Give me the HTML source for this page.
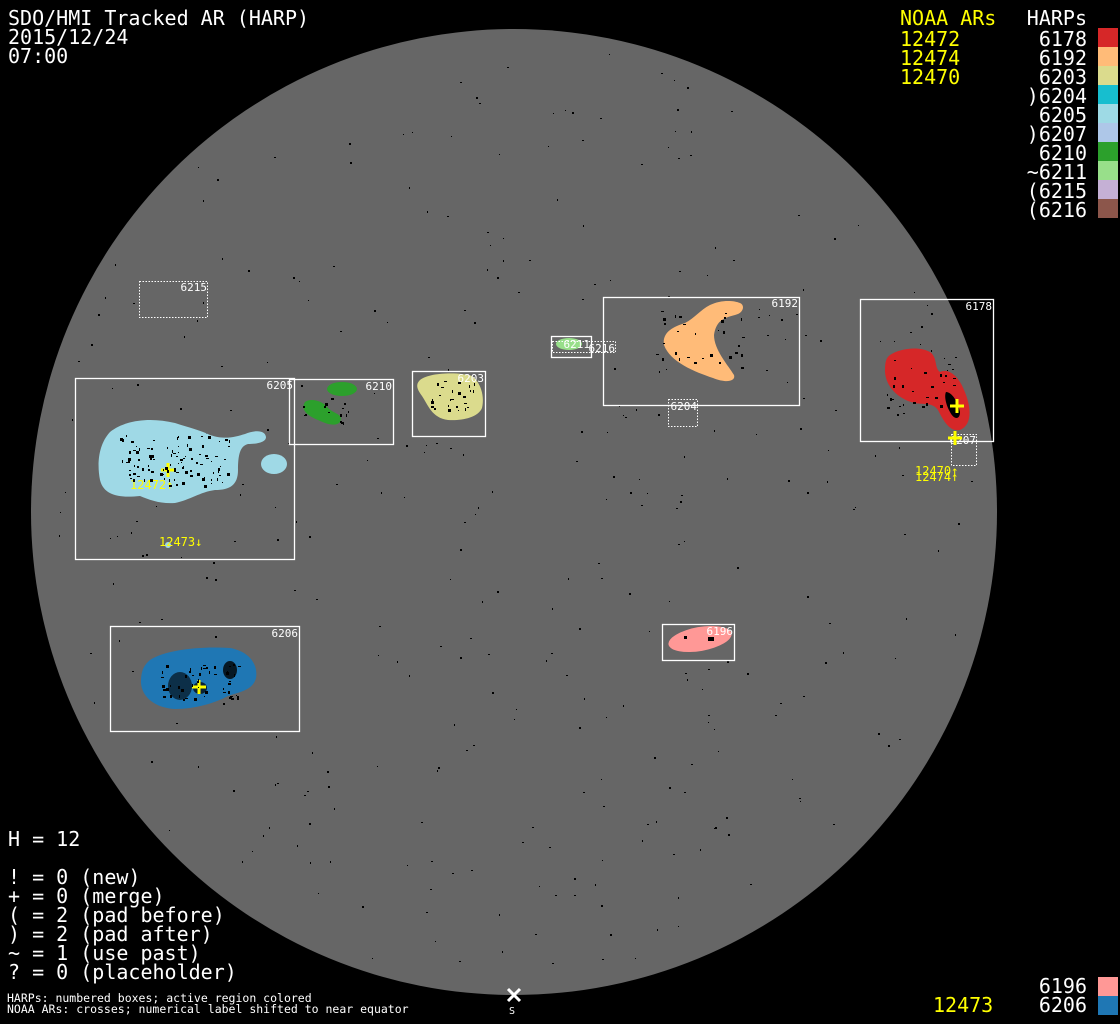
<!DOCTYPE html>
<html><head><meta charset="utf-8"><style>
html,body{margin:0;padding:0;background:#000;width:1120px;height:1024px;overflow:hidden}
svg{display:block}
text{font-family:"DejaVu Sans Mono","Liberation Mono",monospace}
</style></head><body>
<svg id="s" width="1120" height="1024" viewBox="0 0 1120 1024" xmlns="http://www.w3.org/2000/svg">
<rect width="1120" height="1024" fill="#000"/>
<circle cx="514" cy="512" r="483" fill="#666"/>
<g id="dots" fill="#000"></g>

<!-- 6205 cyan -->
<path d="M110,432 C125,420 150,417 175,423 C190,428 200,430 210,435 C225,440 235,437 245,434 C255,430 265,430 266,437 C266,443 255,444 248,444 C240,446 238,455 238,470 C238,485 230,490 215,490 C200,492 190,500 175,503 C160,504 150,500 140,496 C120,498 104,496 100,480 C97,465 98,445 110,432 Z" fill="#9fd9e6"/>
<ellipse cx="274" cy="464" rx="13" ry="10" fill="#9fd9e6"/>
<circle cx="168" cy="545" r="3" fill="#9fd9e6"/>
<!-- 6210 green -->
<ellipse cx="342" cy="389" rx="15" ry="7" fill="#2ca02c"/>
<path d="M305,402 C310,398 322,400 328,408 C334,414 344,414 340,422 C336,427 326,424 318,420 C308,416 300,410 305,402 Z" fill="#2ca02c"/>
<!-- 6203 yellow -->
<path d="M420,380 C430,372 460,372 472,376 C480,382 485,395 482,408 C478,418 460,421 448,420 C432,418 428,405 422,396 C416,388 416,384 420,380 Z" fill="#dbdb8d"/>
<!-- 6211 -->
<ellipse cx="569" cy="344" rx="13" ry="6" fill="#98df8a"/>
<!-- 6192 orange -->
<path d="M740,303 C745,305 744,313 735,315 C722,318 716,322 714,335 C714,350 728,365 734,375 C736,382 725,383 713,378 C695,372 670,362 664,345 C662,333 672,327 685,323 C695,318 700,310 710,305 C720,300 733,300 740,303 Z" fill="#ffbb78"/>
<!-- 6178 red -->
<path d="M890,355 C900,348 920,346 930,352 C938,358 934,368 940,372 C948,368 958,375 964,390 C972,408 972,425 960,430 C950,432 944,422 938,410 C932,402 925,405 915,403 C900,400 886,388 885,372 C885,362 886,358 890,355 Z" fill="#d62728"/>
<path d="M946,392 C952,392 958,402 960,412 C960,420 954,420 950,412 C946,405 944,396 946,392 Z" fill="#000"/>
<!-- 6206 blue -->
<path d="M150,660 C165,650 200,646 230,648 C252,652 258,667 256,678 C253,690 240,692 228,696 C215,703 195,709 175,709 C155,708 142,697 141,683 C141,672 143,666 150,660 Z" fill="#1f77b4"/>
<ellipse cx="180" cy="686" rx="12" ry="14" fill="#000" opacity=".6"/>
<ellipse cx="230" cy="670" rx="7" ry="9" fill="#000" opacity=".8"/>
<ellipse cx="200" cy="688" rx="7" ry="6" fill="#000" opacity=".7"/>
<!-- 6196 pink -->
<ellipse cx="700" cy="639" rx="32" ry="12" transform="rotate(-10 700 639)" fill="#ff9896"/>
<rect x="684" y="636" width="3" height="3" fill="#000"/><rect x="708" y="637" width="6" height="4" fill="#000"/>

<g fill="none" stroke="#fff" stroke-width="1.3">
<rect x="75.5" y="378.5" width="219" height="181"/>
<rect x="289.5" y="379.5" width="104" height="65"/>
<rect x="412.5" y="371.5" width="73" height="65"/>
<rect x="551.5" y="336.5" width="40" height="21"/>
<rect x="603.5" y="297.5" width="196" height="108"/>
<rect x="860.5" y="299.5" width="133" height="142"/>
<rect x="110.5" y="626.5" width="189" height="105"/>
<rect x="662.5" y="624.5" width="72" height="36"/>
</g>
<g fill="none" stroke="#fff" stroke-width="1" stroke-dasharray="1.5,1.5">
<rect x="139.5" y="281.5" width="68" height="36"/>
<rect x="552.5" y="341.5" width="63" height="11"/>
<rect x="668.5" y="399.5" width="29" height="27"/>
<rect x="951.5" y="434.5" width="25" height="31"/>
</g>
<g fill="#fff" font-size="11" text-anchor="end">
<text x="293" y="389">6205</text><text x="392" y="390">6210</text><text x="484" y="382">6203</text>
<text x="590" y="348">6211</text><text x="615" y="352">6216</text><text x="798" y="307">6192</text>
<text x="992" y="310">6178</text><text x="298" y="637">6206</text><text x="733" y="635">6196</text>
<text x="207" y="291">6215</text><text x="697" y="410">6204</text><text x="976" y="444">6207</text>
</g>
<g stroke="#ff0" stroke-width="3">
<path d="M161,470h14M168,463v14"/><path d="M192,687h14M199,680v14"/>
<path d="M950,406h14M957,399v14"/><path d="M948,438h14M955,431v14"/>
</g>
<g fill="#ff0" font-size="12">
<text x="130" y="489">12472↑</text><text x="159" y="546">12473↓</text>
<text x="915" y="475">12470↑</text><text x="915" y="481">12474↑</text>
</g>
<path d="M508,989l12,12M520,989l-12,12" stroke="#fff" stroke-width="3"/>
<text x="509" y="1014" fill="#fff" font-size="10">S</text>

<g font-size="20" fill="#fff">
<text x="8" y="25">SDO/HMI Tracked AR (HARP)</text>
<text x="8" y="44">2015/12/24</text>
<text x="8" y="63">07:00</text>
<text x="8" y="846">H = 12</text>
<text x="8" y="884">! = 0 (new)</text>
<text x="8" y="903">+ = 0 (merge)</text>
<text x="8" y="922">( = 2 (pad before)</text>
<text x="8" y="941">) = 2 (pad after)</text>
<text x="8" y="960">~ = 1 (use past)</text>
<text x="8" y="979">? = 0 (placeholder)</text>
</g>
<g font-size="11.5" fill="#fff"><text x="7" y="1002">HARPs: numbered boxes; active region colored</text><text x="7" y="1013">NOAA ARs: crosses; numerical label shifted to near equator</text></g>
<g font-size="20" fill="#ff0">
<text x="900" y="25">NOAA ARs</text><text x="900" y="46">12472</text><text x="900" y="65">12474</text><text x="900" y="84">12470</text>
<text x="933" y="1012">12473</text>
</g>
<g font-size="20" fill="#fff" text-anchor="end">
<text x="1087" y="25">HARPs</text><text x="1087" y="46">6178</text><text x="1087" y="65">6192</text><text x="1087" y="84">6203</text>
<text x="1087" y="103">)6204</text><text x="1087" y="122">6205</text><text x="1087" y="141">)6207</text><text x="1087" y="160">6210</text>
<text x="1087" y="179">~6211</text><text x="1087" y="198">(6215</text><text x="1087" y="217">(6216</text>
<text x="1087" y="993">6196</text><text x="1087" y="1012">6206</text>
</g>
<rect x="1098" y="28" width="20" height="19" fill="#d62728"/>
<rect x="1098" y="47" width="20" height="19" fill="#ffbb78"/>
<rect x="1098" y="66" width="20" height="19" fill="#dbdb8d"/>
<rect x="1098" y="85" width="20" height="19" fill="#17becf"/>
<rect x="1098" y="104" width="20" height="19" fill="#9edae5"/>
<rect x="1098" y="123" width="20" height="19" fill="#aec7e8"/>
<rect x="1098" y="142" width="20" height="19" fill="#2ca02c"/>
<rect x="1098" y="161" width="20" height="19" fill="#98df8a"/>
<rect x="1098" y="180" width="20" height="19" fill="#c5b0d5"/>
<rect x="1098" y="199" width="20" height="19" fill="#8c564b"/>
<rect x="1098" y="977" width="20" height="19" fill="#ff9896"/>
<rect x="1098" y="996" width="20" height="19" fill="#1f77b4"/>
</svg>
<script>
(function(){var g=document.getElementById('dots'),s=12345,ns='http://www.w3.org/2000/svg';
function r(){s=(s*1103515245+12345)%2147483648;return s/2147483648;}
for(var i=0;i<500;i++){var x=31+r()*966,y=29+r()*966;
var dy=y-512,dx=x-514;if(dx*dx+dy*dy>470*470)continue;
var w=1+Math.floor(r()*2),h=1+Math.floor(r()*2);
var e=document.createElementNS(ns,'rect');e.setAttribute('x',x.toFixed(0));e.setAttribute('y',y.toFixed(0));e.setAttribute('width',w);e.setAttribute('height',h);g.appendChild(e);}
var cl=[[175,460,55,25,110],[450,395,25,15,25],[700,340,45,30,30],[920,385,35,30,30],[325,410,25,15,15],[200,680,40,20,50]];
cl.forEach(function(c){for(var k=0;k<c[4];k++){var e=document.createElementNS(ns,'rect');e.setAttribute('x',(c[0]+(r()-.5)*2*c[2]).toFixed(0));e.setAttribute('y',(c[1]+(r()-.5)*2*c[3]).toFixed(0));e.setAttribute('width',1+Math.floor(r()*3));e.setAttribute('height',1+Math.floor(r()*3));e.setAttribute('fill','#000');document.getElementById('s').appendChild(e);}});
})();
</script>
</body></html>
